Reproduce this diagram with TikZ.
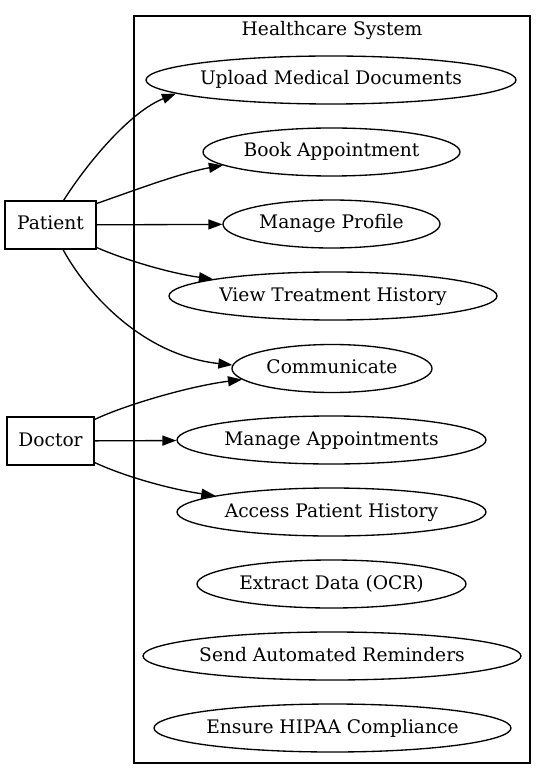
\documentclass[tikz,border=0pt]{standalone}
\usepackage{fontspec}
\setmainfont{DejaVu Serif}
\usetikzlibrary{arrows.meta,shapes.geometric}
\begin{document}
\begin{tikzpicture}[x=0.75pt,y=-0.75pt,
  txt/.style={font=\fontsize{14pt}{17pt}\selectfont, text height=10.5pt, text depth=3pt},
  actor/.style={txt, draw, line width=1pt, rectangle, minimum height=36pt, inner sep=0pt},
  usecase/.style={txt, draw, ellipse, line width=1pt, minimum height=36pt, inner ysep=0pt, inner xsep=-45pt},
  edge/.style={line width=1pt, -{Triangle[length=10.5pt,width=7.5pt]}}]
\useasboundingbox (0,0) rectangle (547,780);
% cluster
\draw[line width=1pt] (134,16) coordinate (cl1) rectangle (530,763) coordinate (cl2);
\node[txt] (title) at (332,31) {Healthcare System};
% actors
\node[actor, minimum width=68.25pt] (patient) at (50.5,225) {Patient};
\node[actor, minimum width=65.25pt] (doctor) at (50.5,441) {Doctor};
% use cases
\node[usecase, minimum width=277.5pt] (upload) at (331,80) {Upload Medical Documents};
\node[usecase, minimum width=192.75pt] (book) at (331.5,152) {Book Appointment};
\node[usecase, minimum width=162.75pt] (profile) at (331.5,224) {Manage Profile};
\node[usecase, minimum width=246pt] (view) at (333,296) {View Treatment History};
\node[usecase, minimum width=150pt] (comm) at (332,368.5) {Communicate};
\node[usecase, minimum width=231.75pt] (mappt) at (331.5,440) {Manage Appointments};
\node[usecase, minimum width=231.75pt] (access) at (331.5,512) {Access Patient History};
\node[usecase, minimum width=201.75pt] (ocr) at (331.5,584) {Extract Data (OCR)};
\node[usecase, minimum width=283.5pt] (remind) at (332,656) {Send Automated Reminders};
\node[usecase, minimum width=267.75pt] (hipaa) at (332.5,728) {Ensure HIPAA Compliance};
% edges
\draw[edge] (patient.62) .. controls (88,162) and (130,112) .. (upload.185.6);
\draw[edge] (patient.25) .. controls (130,192) and (180,173) .. (book.187.4);
\draw[edge] (patient) -- (profile);
\draw[edge] (patient.334) .. controls (130,262) and (175,274) .. (view.172.2);
\draw[edge] (patient.297.5) .. controls (85,290) and (140,355) .. (comm.178.5);
\draw[edge] (doctor.26) .. controls (125,405) and (190,386) .. (comm.187.7);
\draw[edge] (doctor) -- (mappt);
\draw[edge] (doctor.334) .. controls (128,478) and (175,490) .. (access.172);
\end{tikzpicture}
\end{document}
